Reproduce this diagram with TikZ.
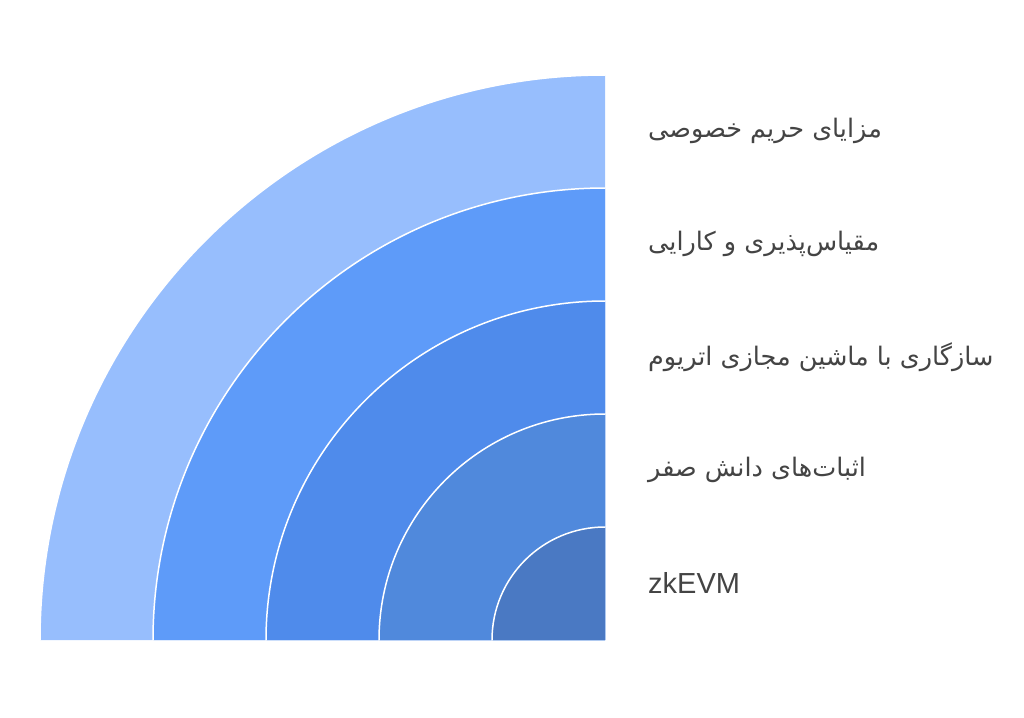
\documentclass[tikz,border=0pt]{standalone}
\usepackage{fontspec}
\setmainfont{Liberation Sans}
\newfontfamily\arabicfont[Script=Arabic]{DejaVu Sans}
\TeXXeTstate=1
\usetikzlibrary{positioning}
\definecolor{ringA}{HTML}{4A79C3}
\definecolor{ringB}{HTML}{5089DC}
\definecolor{ringC}{HTML}{4F8BEB}
\definecolor{ringD}{HTML}{5E9BF9}
\definecolor{ringE}{HTML}{97BEFD}
\definecolor{labelgrey}{HTML}{444444}
\newcommand*\myquarterring[2]{%
% #1=colour;#2=radius (y axis points down)
    \fill[#1] (O) -- ++(-#2,0) arc[start angle=180,end angle=270,radius=#2] -- cycle;
    \draw[white,line width=1.5] (O) ++(-#2,0) arc[start angle=180,end angle=270,radius=#2];
}

\begin{document}
\begin{tikzpicture}[x=1pt,y=-1pt,line cap=round,line join=round,
    ringlabel/.style={anchor=west,inner sep=0pt,text=labelgrey,font=\fontsize{25.5}{30}\selectfont}]
\useasboundingbox (0,0) rectangle (1024,717);
\coordinate (O) at (605,640);

\myquarterring{ringE}{565}
\myquarterring{ringD}{452}
\myquarterring{ringC}{339}
\myquarterring{ringB}{226}
\myquarterring{ringA}{113}

\node[ringlabel] (lblPrivacy) at (648,131) {\arabicfont\beginR مزایای حریم خصوصی\endR};
\node[ringlabel] (lblScale) at (648,244) {\arabicfont\beginR مقیاس‌پذیری و کارایی\endR};
\node[ringlabel] (lblCompat) at (648,357) {\arabicfont\beginR سازگاری با ماشین مجازی اتریوم\endR};
\node[ringlabel] (lblProofs) at (648,470) {\arabicfont\beginR اثبات‌های دانش صفر\endR};
\node[ringlabel,font=\fontsize{29}{34}\selectfont] (lblZk) at (648,583) {zkEVM};
\end{tikzpicture}
\end{document}
